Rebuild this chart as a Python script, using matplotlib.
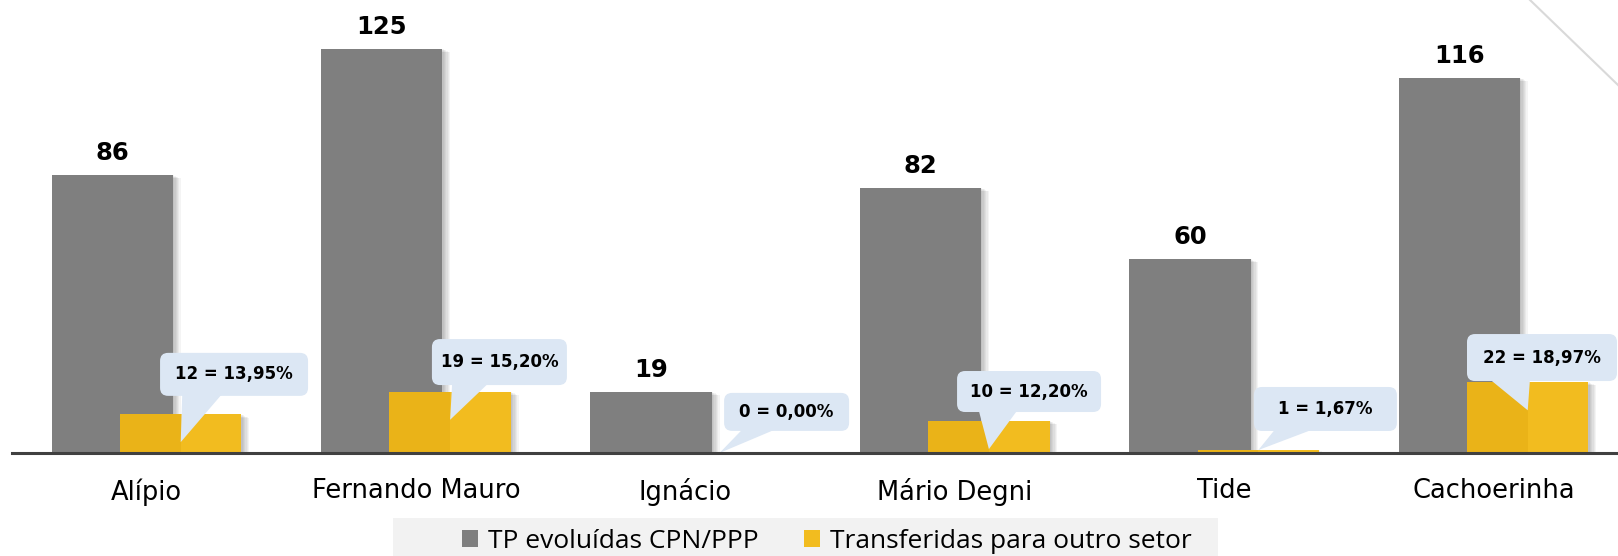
import matplotlib
matplotlib.use("Agg")
import matplotlib.pyplot as plt
import numpy as np
from matplotlib.patches import FancyBboxPatch, Polygon, Rectangle
from matplotlib.transforms import IdentityTransform
from matplotlib.lines import Line2D

# Data
categories = ["Alípio", "Fernando Mauro", "Ignácio", "Mário Degni", "Tide", "Cachoerinha"]
evoluidas = [86, 125, 19, 82, 60, 116]
transferidas = [12, 19, 0, 10, 1, 22]
percent_labels = ["13,95%", "15,20%", "0,00%", "12,20%", "1,67%", "18,97%"]
series_names = ["TP evoluídas CPN/PPP", "Transferidas para outro setor"]

# Colours / layout
GRAY = "#7F7F7F"
YELLOW = "#F2BC1F"
YELLOW_DARK = "#EAB318"
CALLOUT = "#DCE7F4"
BAR_W = 0.45
OFFSET = 0.127

# callout layout: box centre offset (category units, data units), box size px, tip fraction
call_dx = [0.198, 0.183, 0.249, 0.149, 0.249, 0.053]
call_dy = [12.3, 9.1, 12.7, 9.0, 12.6, 7.5]
call_w = [148, 135, 125, 144, 143, 150]
call_h = [43, 46, 38, 41, 44, 47]
tip_frac = [0.28, 0.54, 0.0, 0.12, 0.9, 0.6]

W, H = 1618, 556
fig = plt.figure(figsize=(W / 100, H / 100), dpi=100)
fig.patch.set_facecolor("white")

left_px, right_px = 11.8, 1616
base_px = 103          # axis line from bottom
px_per_cat = 269.4
px_per_unit = 3.236
ax = fig.add_axes([left_px / W, base_px / H, (right_px - left_px) / W, (H - base_px) / H])
ax.set_xlim(-0.5, -0.5 + (right_px - left_px) / px_per_cat)
ax.set_ylim(0, (H - base_px) / px_per_unit)

x = np.arange(len(categories))
dx_px = 1 / px_per_cat
dy_px = 1 / px_per_unit
ev = np.array(evoluidas, dtype=float)
tr = np.array(transferidas, dtype=float)

# soft shadows
for k in range(1, 7):
    ax.bar(x - OFFSET + k * 1.3 * dx_px, np.maximum(ev - k * 0.6 * dy_px, 0), BAR_W,
           color="black", alpha=0.045, zorder=1, linewidth=0)
ax.bar(x - OFFSET, ev, BAR_W, color=GRAY, zorder=2, linewidth=0, label=series_names[0])
for k in range(1, 7):
    ax.bar(x + OFFSET + k * 1.3 * dx_px, np.maximum(tr - k * 0.6 * dy_px, 0), BAR_W,
           color="black", alpha=0.045, zorder=3, linewidth=0)
ax.bar(x + OFFSET, tr, BAR_W, color=YELLOW, zorder=4, linewidth=0, label=series_names[1])
ax.bar(x + OFFSET - BAR_W / 2, tr, BAR_W / 2, align="edge", color=YELLOW_DARK, zorder=4, linewidth=0)

# value labels on gray bars
for xi, v in zip(x, evoluidas):
    ax.annotate(str(v), (xi - OFFSET, v), xytext=(0, 7), textcoords="offset points",
                ha="center", va="bottom", fontsize=17.5, fontweight="bold",
                family="DejaVu Sans", color="black")

# callouts in pixel space
for i, (xi, v) in enumerate(zip(x, transferidas)):
    cx, cy = ax.transData.transform((xi + OFFSET + call_dx[i], v + call_dy[i]))
    tx, ty = ax.transData.transform((xi + OFFSET, v * tip_frac[i]))
    w, h = call_w[i], call_h[i]
    x0, y0 = cx - w / 2, cy - h / 2
    box = FancyBboxPatch((x0, y0), w, h, boxstyle="round,pad=0,rounding_size=8",
                         transform=IdentityTransform(), facecolor=CALLOUT,
                         edgecolor="none", zorder=6, clip_on=False)
    ax.add_artist(box)
    tri = Polygon([(x0 + 0.15 * w, y0 + 2), (x0 + 0.42 * w, y0 + 2), (tx, ty)], closed=True,
                  transform=IdentityTransform(), facecolor=CALLOUT, edgecolor="none",
                  zorder=6, clip_on=False)
    ax.add_artist(tri)
    ax.text(cx, cy, f"{v} = {percent_labels[i]}", transform=IdentityTransform(),
            ha="center", va="center", fontsize=12, fontweight="bold",
            family="DejaVu Sans", zorder=7)

# axes styling
for s in ["top", "right", "left"]:
    ax.spines[s].set_visible(False)
ax.spines["bottom"].set_color("#404040")
ax.spines["bottom"].set_linewidth(2.2)
ax.spines["bottom"].set_zorder(8)
ax.set_yticks([])
ax.set_xticks(x)
ax.set_xticklabels(categories, fontsize=18.5, family="DejaVu Sans")
ax.tick_params(axis="x", length=0, pad=18)
ax.patch.set_visible(False)

# legend background + legend
fig.add_artist(Rectangle((393 / W, 0), 825 / W, 38 / H, transform=fig.transFigure,
                         facecolor="#F2F2F2", edgecolor="none", zorder=0))
leg = fig.legend(loc="center", bbox_to_anchor=(827 / W, 15 / H), ncol=2, frameon=False,
                 prop={"family": "Open Sans", "size": 19}, handlelength=0.6,
                 handleheight=0.6, handletextpad=0.4, columnspacing=1.7,
                 borderpad=0, borderaxespad=0)

# decorative diagonal line top-right
fig.add_artist(Line2D([1530 / W, 1.0], [1.0, 1 - 85 / H], transform=fig.transFigure,
                      color="#D9D9D9", linewidth=1.5))

fig.savefig("out.png", dpi=100)
